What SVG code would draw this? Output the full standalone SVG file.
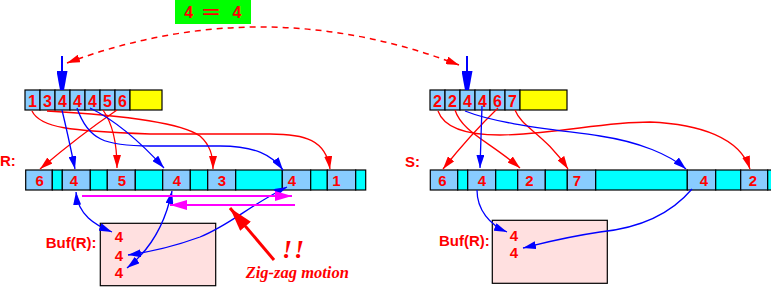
<svg xmlns="http://www.w3.org/2000/svg" width="771" height="287" viewBox="0 0 771 287">
<style>
.v{fill:#88ccff;stroke:#000;stroke-width:1.2}
.c{fill:#00ffff;stroke:#000;stroke-width:1.2}
.y{fill:#ffff00;stroke:#000;stroke-width:1.2}
.t{font-family:"Liberation Sans",Arial,sans-serif;font-weight:bold;fill:#ff0000;text-anchor:middle}
.t16{font-size:16px}
.t15{font-size:15px}
.lb{font-family:"Liberation Sans",Arial,sans-serif;font-weight:bold;fill:#ff0000;font-size:15px}
.buf{fill:#ffe0e0;stroke:#000;stroke-width:1.2}
.bl{fill:none;stroke:#0000ff;stroke-width:1.3}
.rd{fill:none;stroke:#ff0000;stroke-width:1.3}
</style>
<defs>
<marker id="ab" markerUnits="userSpaceOnUse" markerWidth="13" markerHeight="8" viewBox="0 0 13 8" refX="13" refY="4" orient="auto-start-reverse"><path d="M0,0 L13,4 L0,8 z" fill="#0000ff"/></marker>
<marker id="ar" markerUnits="userSpaceOnUse" markerWidth="13" markerHeight="8" viewBox="0 0 13 8" refX="13" refY="4" orient="auto-start-reverse"><path d="M0,0 L13,4 L0,8 z" fill="#ff0000"/></marker>
<marker id="am" markerUnits="userSpaceOnUse" markerWidth="17" markerHeight="10" viewBox="0 0 17 10" refX="17" refY="5" orient="auto"><path d="M0,0 L17,5 L0,10 z" fill="#ff00ff"/></marker>
<marker id="abig" markerUnits="userSpaceOnUse" markerWidth="19" markerHeight="11" viewBox="0 0 19 11" refX="19" refY="5.5" orient="auto"><path d="M0,0 L19,3.5 L19,7.5 L0,11 z" fill="#0000ff"/></marker>
<marker id="arbig" markerUnits="userSpaceOnUse" markerWidth="24" markerHeight="14" viewBox="0 0 24 14" refX="24" refY="7" orient="auto"><path d="M0,0 L24,7 L0,14 z" fill="#ff0000"/></marker>
</defs>
<rect width="771" height="287" fill="#ffffff"/>

<g id="eq">
<rect x="175" y="0" width="76" height="24" fill="#00ff00"/>
<text class="t t16" y="18"><tspan x="188.7">4</tspan><tspan x="211" textLength="18" lengthAdjust="spacingAndGlyphs">=</tspan><tspan x="237">4</tspan></text>
</g>

<g id="topR">
<rect class="v" x="25" y="90" width="15" height="20"/>
<rect class="v" x="40" y="90" width="15" height="20"/>
<rect class="v" x="55" y="90" width="15" height="20"/>
<rect class="v" x="70" y="90" width="15" height="20"/>
<rect class="v" x="85" y="90" width="15" height="20"/>
<rect class="v" x="100" y="90" width="15" height="20"/>
<rect class="v" x="115" y="90" width="15" height="20"/>
<rect class="y" x="130" y="90" width="32" height="20"/>
<text class="t t16" x="32.5" y="107">1</text>
<text class="t t16" x="47.5" y="107">3</text>
<text class="t t16" x="62.5" y="107">4</text>
<text class="t t16" x="77.5" y="107">4</text>
<text class="t t16" x="92.5" y="107">4</text>
<text class="t t16" x="107.5" y="107">5</text>
<text class="t t16" x="122.5" y="107">6</text>
</g>

<g id="topS">
<rect class="v" x="430" y="90" width="15" height="20"/>
<rect class="v" x="445" y="90" width="15" height="20"/>
<rect class="v" x="460" y="90" width="15" height="20"/>
<rect class="v" x="475" y="90" width="15" height="20"/>
<rect class="v" x="490" y="90" width="15" height="20"/>
<rect class="v" x="505" y="90" width="15" height="20"/>
<rect class="y" x="520" y="90" width="47" height="20"/>
<text class="t t16" x="437.5" y="107">2</text>
<text class="t t16" x="452.5" y="107">2</text>
<text class="t t16" x="467.5" y="107">4</text>
<text class="t t16" x="482.5" y="107">4</text>
<text class="t t16" x="497.5" y="107">6</text>
<text class="t t16" x="512.5" y="107">7</text>
</g>

<g id="rowR">
<text class="lb" x="0" y="166">R:</text>
<rect class="v" x="25.7" y="170" width="26.6" height="20"/>
<rect class="c" x="52.3" y="170" width="10" height="20"/>
<rect class="v" x="62.3" y="170" width="28" height="20"/>
<rect class="c" x="90.3" y="170" width="17" height="20"/>
<rect class="v" x="107.3" y="170" width="28" height="20"/>
<rect class="c" x="135.3" y="170" width="27.4" height="20"/>
<rect class="v" x="162.7" y="170" width="27.6" height="20"/>
<rect class="c" x="190.3" y="170" width="17.4" height="20"/>
<rect class="v" x="207.7" y="170" width="28" height="20"/>
<rect class="c" x="235.7" y="170" width="46.6" height="20"/>
<rect class="v" x="282.3" y="170" width="28.4" height="20"/>
<rect class="c" x="310.7" y="170" width="16.6" height="20"/>
<rect class="v" x="327.3" y="170" width="28.4" height="20"/>
<rect class="c" x="355.7" y="170" width="10" height="20"/>
<text class="t t15" x="39.7" y="186">6</text>
<text class="t t15" x="74" y="186">4</text>
<text class="t t15" x="122" y="186">5</text>
<text class="t t15" x="177" y="186">4</text>
<text class="t t15" x="222" y="186">3</text>
<text class="t t15" x="292" y="186">4</text>
<text class="t t15" x="336.5" y="186">1</text>
</g>

<g id="rowS">
<text class="lb" x="405" y="167">S:</text>
<rect class="v" x="430.3" y="170" width="27.4" height="20"/>
<rect class="c" x="457.7" y="170" width="10" height="20"/>
<rect class="v" x="467.7" y="170" width="28" height="20"/>
<rect class="c" x="495.7" y="170" width="22" height="20"/>
<rect class="v" x="517.7" y="170" width="27.6" height="20"/>
<rect class="c" x="545.3" y="170" width="22" height="20"/>
<rect class="v" x="567.3" y="170" width="28.4" height="20"/>
<rect class="c" x="595.7" y="170" width="91.6" height="20"/>
<rect class="v" x="687.3" y="170" width="28.4" height="20"/>
<rect class="c" x="715.7" y="170" width="25" height="20"/>
<rect class="v" x="740.7" y="170" width="27" height="20"/>
<rect class="c" x="767.7" y="170" width="10" height="20"/>
<text class="t t15" x="442.5" y="186">6</text>
<text class="t t15" x="482" y="186">4</text>
<text class="t t15" x="529.5" y="186">2</text>
<text class="t t15" x="577" y="186">7</text>
<text class="t t15" x="704" y="186">4</text>
<text class="t t15" x="753" y="186">2</text>
</g>

<g id="bufR">
<text class="lb" x="45.7" y="248">Buf(R):</text>
<rect class="buf" x="100.3" y="223.3" width="115.4" height="62.4"/>
<text class="t t15" x="119" y="241.5">4</text>
<text class="t t15" x="119" y="260.5">4</text>
<text class="t t15" x="119" y="277.5">4</text>
</g>

<g id="bufS">
<text class="lb" x="439" y="246">Buf(R):</text>
<rect class="buf" x="492.3" y="220.3" width="115" height="63"/>
<text class="t t15" x="514" y="241">4</text>
<text class="t t15" x="514" y="258">4</text>
</g>

<g id="note">
<text x="282" y="257.5" font-family="'Liberation Serif','Times New Roman',serif" font-style="italic" font-weight="bold" font-size="26" letter-spacing="2" fill="#ff0000">!!</text>
<text x="245.7" y="278" font-family="'Liberation Serif','Times New Roman',serif" font-style="italic" font-weight="bold" font-size="16.5" fill="#ff0000">Zig-zag motion</text>
</g>

<g id="connectors">
<path d="M67,63 Q263,-10 459,65" fill="none" stroke="#ff0000" stroke-width="1.5" stroke-dasharray="6,5" marker-start="url(#ar)" marker-end="url(#ar)"/>
<path d="M62,56 L62,90" stroke="#0000ff" stroke-width="2" marker-end="url(#abig)"/>
<path d="M467,56 L467,90" stroke="#0000ff" stroke-width="2" marker-end="url(#abig)"/>

<path class="rd" d="M32,111 C40,128 70,131 150,134 L270,134 C305,134 326,140 330,169" marker-end="url(#ar)"/>
<path class="rd" d="M47,111 C120,115 180,122 200,136 C210,145 213,155 213,169" marker-end="url(#ar)"/>
<path class="rd" d="M103,110 Q117,130 117,168" marker-end="url(#ar)"/>
<path class="rd" d="M117,110 Q80,135 40,169" marker-end="url(#ar)"/>
<path class="bl" d="M62,110 Q68,135 75,169" marker-end="url(#ab)"/>
<path class="bl" d="M77,108 C88,140 105,146 150,146 L220,146 C255,146 272,155 283,170" marker-end="url(#ab)"/>
<path class="bl" d="M90,108 Q125,125 164,168" marker-end="url(#ab)"/>

<path class="rd" d="M438,111 C444,128 465,135 500,135 C560,134 600,122 650,122 C700,124 740,138 750,169" marker-end="url(#ar)"/>
<path class="rd" d="M455,110 C462,132 490,142 520,168" marker-end="url(#ar)"/>
<path class="rd" d="M498,108 Q470,135 443,169" marker-end="url(#ar)"/>
<path class="rd" d="M515,110 C522,128 545,134 568,169" marker-end="url(#ar)"/>
<path class="bl" d="M482,106 L480,168" marker-end="url(#ab)"/>
<path class="bl" d="M465,111 C500,125 560,130 600,136 C640,142 670,155 686,169" marker-end="url(#ab)"/>

<path class="bl" d="M76,192 C78,215 95,225 112,232" marker-start="url(#ab)" marker-end="url(#ab)"/>
<path class="bl" d="M172,191 C165,225 150,250 127,268" marker-start="url(#ab)" marker-end="url(#ab)"/>
<path class="bl" d="M287,187 C250,205 230,225 200,237 C170,248 150,252 128,255" marker-start="url(#ab)" marker-end="url(#ab)"/>
<path class="bl" d="M477,190 C477,210 490,225 507,232" marker-end="url(#ab)"/>
<path class="bl" d="M692,189 C670,215 640,228 600,232 C560,238 540,244 523,248" marker-end="url(#ab)"/>

<path d="M82,196 L292,196" stroke="#ff00ff" stroke-width="2" marker-end="url(#am)"/>
<path d="M295,205 L170,205" stroke="#ff00ff" stroke-width="2" marker-end="url(#am)"/>
<path d="M274,260 L230,208" stroke="#ff0000" stroke-width="3" marker-end="url(#arbig)"/>
</g>
</svg>
